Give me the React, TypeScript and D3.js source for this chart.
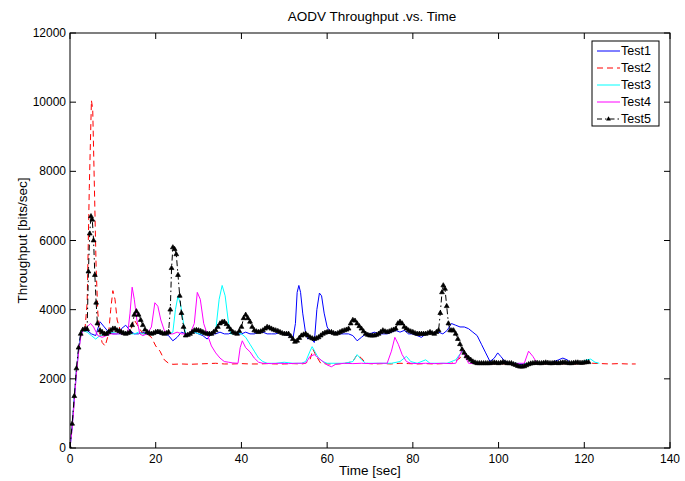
import React from "react";
import * as d3 from "d3";

const X_TICKS = [0, 20, 40, 60, 80, 100, 120, 140];
const Y_TICKS = [0, 2000, 4000, 6000, 8000, 10000, 12000];
const SERIES_NAMES = ["Test1", "Test2", "Test3", "Test4", "Test5"];

const test1: [number, number][] = [
  [0,0],[0.5,650],[1,1450],[1.5,2250],[2,2850],[2.5,3300],[3,3420],[4,3400],[5,3300],[6,3250],[7,3650],[8,3500],[9,3350],[10,3300],[11,3300],[12,3450],[13,3550],[14,3400],[15,3300],[16,3300],[17,3350],[18,3300],[19,3300],[20,3350],[21,3300],[22,3300],[23,3250],[24,3100],[25,3200],[26,3350],[27,3300],[28,3300],[29,3350],[30,3300],[31,3250],[32,3150],[33,3300],[34,3300],[35,3350],[36,3300],[37,3300],[38,3350],[39,3300],[40,3300],[41,3350],[42,3300],[43,3300],[44,3350],[45,3350],[46,3300],[47,3300],[48,3300],[49,3350],[50,3300],[51,3250],[52,3150],[52.6,3600],[53,4500],[53.4,4700],[53.8,4500],[54.3,3900],[55,3300],[55.5,3150],[56,3200],[57,3050],[57.6,4000],[58.2,4480],[58.7,4400],[59.3,3900],[60,3500],[61,3300],[62,3350],[63,3300],[64,3300],[65,3300],[66,3250],[67,3100],[68,3200],[69,3300],[70,3300],[71,3350],[72,3300],[73,3300],[74,3300],[75,3350],[76,3400],[77,3350],[78,3400],[79,3300],[80,3300],[81,3250],[82,3200],[83,3300],[84,3350],[85,3300],[86,3350],[87,3300],[88,3400],[89,3600],[90,3550],[91,3500],[92,3500],[93,3450],[94,3350],[95,3250],[96,3000],[97,2750],[98,2500],[99,2600],[99.8,2750],[100.5,2650],[101.5,2500],[103,2450],[105,2420],[106,2400],[108,2450],[110,2450],[112,2450],[114,2550],[115,2600],[116,2550],[117,2450],[119,2450],[121,2480]
];

const test2: [number, number][] = [
  [0,0],[0.5,600],[1,1400],[1.5,2200],[2,2800],[2.5,3250],[3,3400],[3.5,3450],[4,4200],[4.5,7500],[5,10050],[5.3,9800],[5.7,7500],[6.1,5200],[6.5,3900],[7,3300],[7.5,3050],[8.2,2950],[9,3300],[9.5,4000],[10,4550],[10.5,4300],[11,3700],[12,3300],[13,3300],[14,3350],[15,3700],[16,3500],[17,3300],[18,3300],[19,3200],[20,2950],[21,2800],[22,2550],[23,2450],[24,2420],[26,2430],[28,2420],[30,2430],[32,2440],[34,2450],[36,2430],[38,2430],[40,2440],[42,2430],[44,2430],[46,2440],[48,2430],[50,2430],[52,2440],[54,2430],[55,2450],[56,2550],[56.7,2850],[57.5,2650],[58.5,2450],[60,2430],[62,2430],[64,2440],[66,2500],[67,2700],[68,2600],[69,2450],[71,2430],[73,2440],[75,2430],[77,2450],[79,2440],[81,2430],[83,2440],[85,2430],[87,2440],[89,2450],[91,2600],[91.7,2850],[92.5,2700],[94,2450],[96,2440],[98,2430],[100,2440],[102,2430],[104,2440],[106,2430],[108,2440],[110,2430],[112,2440],[114,2430],[116,2440],[118,2430],[120,2440],[122,2450],[124,2440],[126,2430],[128,2440],[130,2430],[132,2430]
];

const test3: [number, number][] = [
  [0,0],[0.5,600],[1,1400],[1.5,2200],[2,2800],[2.5,3250],[3,3400],[4,3350],[5,3250],[6,3150],[7,3250],[8,3300],[9,3300],[10,3350],[11,3300],[12,3300],[13,3350],[14,3300],[15,3300],[16,3350],[17,3300],[18,3300],[19,3300],[20,3350],[21,3350],[22,3300],[23,3300],[24,3350],[24.6,4000],[25.2,4400],[25.8,4150],[26.5,3600],[27,3300],[28,3300],[29,3350],[30,3300],[31,3300],[32,3350],[33,3300],[34,3400],[34.8,4300],[35.5,4700],[36.2,4400],[37,3600],[37.5,3300],[38,3300],[39,3350],[40,3300],[41,3200],[42,3000],[43,2800],[44,2600],[45,2500],[46,2450],[48,2450],[50,2480],[52,2450],[54,2450],[55,2500],[56,2800],[56.5,2930],[57.3,2750],[58,2600],[59,2500],[60,2450],[62,2450],[64,2450],[66,2500],[67,2700],[68,2550],[69,2450],[72,2450],[75,2450],[77,2500],[78.5,2650],[79.5,2500],[81,2450],[83,2550],[84,2450],[86,2450],[88,2450],[90,2550],[91.5,2800],[92.5,2650],[94,2450],[96,2450],[98,2450],[100,2460],[102,2450],[104,2450],[106,2440],[108,2450],[110,2460],[112,2450],[114,2450],[116,2460],[118,2450],[119,2450],[120.5,2550],[121.5,2570],[122.5,2480],[123.5,2450]
];

const test4: [number, number][] = [
  [0,0],[0.5,550],[1,1350],[1.5,2150],[2,2750],[2.5,3200],[3,3400],[4,3500],[4.8,3600],[5.5,3500],[6.5,3250],[7.5,3200],[8.5,3250],[9.5,3300],[10.5,3300],[11.5,3300],[12.5,3300],[13.5,3350],[14,3900],[14.5,4650],[15,4300],[15.6,3700],[16.3,3300],[17,3250],[18,3300],[19,3500],[19.8,4200],[20.5,4100],[21.2,3700],[22,3400],[23,3300],[24,3300],[25,3350],[26,3300],[27,3300],[28,3300],[29,3600],[29.7,4500],[30.4,4300],[31.2,3600],[32,3300],[33,2950],[34,2750],[35,2600],[36,2500],[37,2480],[38,2460],[39.2,2450],[39.7,2900],[40.2,3100],[41,2900],[42,2780],[43,2600],[44,2480],[45,2450],[47,2440],[49,2450],[51,2440],[53,2450],[55,2450],[56,2650],[57,2700],[58,2600],[59,2500],[60,2400],[61,2350],[62,2420],[64,2450],[66,2440],[68,2450],[70,2440],[72,2450],[74,2450],[75,2800],[75.8,3200],[76.6,3000],[77.5,2700],[78.5,2500],[79.5,2450],[81,2440],[83,2450],[85,2440],[87,2450],[89,2440],[90,2450],[91,2700],[91.6,2850],[92.2,2650],[93,2450],[95,2440],[97,2450],[99,2440],[101,2450],[103,2440],[105,2450],[106,2450],[107,2800],[108,2650],[109,2450],[111,2440],[113,2450],[115,2440],[117,2450],[120,2450]
];

const test5: [number, number][] = [
  [0,0],[0.5,700],[1,1500],[1.5,2300],[2,2900],[2.5,3300],[3,3420],[3.5,3440],[4,3430],[4.3,5100],[4.6,6200],[4.9,6700],[5.2,6600],[5.5,6000],[5.8,5000],[6.1,4200],[6.4,3600],[7,3400],[7.5,3350],[8,3300],[8.5,3300],[9,3350],[9.5,3400],[10,3450],[10.5,3450],[11,3400],[11.5,3380],[12,3350],[12.5,3320],[13,3300],[13.5,3320],[14,3350],[14.5,3550],[15,3850],[15.5,3950],[16,3850],[16.5,3700],[17,3550],[17.5,3420],[18,3350],[18.5,3320],[19,3300],[19.5,3320],[20,3350],[20.5,3360],[21,3350],[21.5,3320],[22,3300],[22.5,3320],[23,3350],[23.4,4000],[23.7,5200],[24,5800],[24.4,5750],[24.8,5600],[25.2,5000],[25.6,4400],[26,3900],[26.5,3500],[27,3250],[27.5,3270],[28,3300],[28.5,3350],[29,3400],[29.5,3410],[30,3400],[30.5,3380],[31,3350],[31.5,3320],[32,3300],[32.5,3300],[33,3300],[33.5,3350],[34,3400],[34.5,3500],[35,3600],[35.5,3640],[36,3650],[36.5,3580],[37,3500],[37.5,3420],[38,3350],[38.5,3320],[39,3300],[39.5,3380],[40,3500],[40.5,3750],[41,3850],[41.5,3750],[42,3650],[42.5,3500],[43,3400],[43.5,3370],[44,3350],[44.5,3370],[45,3400],[45.5,3450],[46,3500],[46.5,3480],[47,3450],[47.5,3420],[48,3400],[48.5,3380],[49,3350],[49.5,3320],[50,3300],[50.5,3300],[51,3300],[51.5,3230],[52,3150],[52.5,3070],[53,3100],[53.5,3180],[54,3250],[54.5,3280],[55,3300],[55.5,3250],[56,3200],[56.5,3170],[57,3150],[57.5,3170],[58,3200],[58.5,3250],[59,3300],[59.5,3330],[60,3350],[60.5,3350],[61,3350],[61.5,3320],[62,3300],[62.5,3320],[63,3350],[63.5,3380],[64,3400],[64.5,3420],[65,3450],[65.5,3600],[66,3700],[66.5,3680],[67,3600],[67.5,3520],[68,3450],[68.5,3370],[69,3300],[69.5,3270],[70,3250],[70.5,3250],[71,3250],[71.5,3270],[72,3300],[72.5,3350],[73,3400],[73.5,3370],[74,3350],[74.5,3370],[75,3400],[75.5,3420],[76,3450],[76.5,3600],[77,3650],[77.5,3600],[78,3500],[78.5,3450],[79,3400],[79.5,3370],[80,3350],[80.5,3320],[81,3300],[81.5,3300],[82,3300],[82.5,3300],[83,3300],[83.5,3320],[84,3350],[84.5,3320],[85,3300],[85.5,3350],[86,3400],[86.4,3900],[86.8,4500],[87.1,4700],[87.5,4600],[87.9,4100],[88.3,3600],[88.7,3400],[89.1,3400],[89.5,3400],[90,3300],[90.5,3150],[91,3000],[91.5,2850],[92,2750],[92.5,2650],[93,2600],[93.5,2550],[94,2500],[94.5,2470],[95,2450],[95.5,2450],[96,2450],[96.5,2450],[97,2450],[97.5,2450],[98,2450],[98.5,2460],[99,2470],[99.5,2460],[100,2450],[100.5,2460],[101,2480],[101.5,2470],[102,2450],[102.5,2450],[103,2450],[103.5,2420],[104,2400],[104.5,2370],[105,2350],[105.5,2350],[106,2360],[106.5,2390],[107,2420],[107.5,2440],[108,2450],[108.5,2460],[109,2460],[109.5,2450],[110,2450],[110.5,2460],[111,2470],[111.5,2460],[112,2450],[112.5,2450],[113,2460],[113.5,2460],[114,2450],[114.5,2460],[115,2470],[115.5,2470],[116,2460],[116.5,2450],[117,2450],[117.5,2460],[118,2470],[118.5,2470],[119,2460],[119.5,2460],[120,2470],[120.5,2480],[121,2480]
];

const W = 685, H = 481;
const L = 70, R = 670, T = 33, B = 448;
const FONT = "'Liberation Sans', Arial, Helvetica, sans-serif";

export default function App() {
  const x = d3.scaleLinear().domain([0, 140]).range([L, R]);
  const y = d3.scaleLinear().domain([0, 12000]).range([B, T]);
  const line = d3.line<[number, number]>().x(d => x(d[0])).y(d => y(d[1]));
  const tri = d3.symbol(d3.symbolTriangle, 10)() as string;

  const styles = [
    { data: test1, color: "#0000ff", dash: undefined },
    { data: test2, color: "#ff0000", dash: "6,4" },
    { data: test3, color: "#00ffff", dash: undefined },
    { data: test4, color: "#ff00ff", dash: undefined },
    { data: test5, color: "#000000", dash: "6,3,1.5,3" },
  ];

  const legX = 592, legY = 41, legW = 67, legH = 85;

  return (
    <svg width={W} height={H} style={{ position: "absolute", left: 0, top: 0, background: "#fff" }} fontFamily={FONT}>
      <rect x={0} y={0} width={W} height={H} fill="#fff" />
      <defs>
        <clipPath id="plotclip">
          <rect x={L} y={T} width={R - L} height={B - T} />
        </clipPath>
      </defs>
      <g clipPath="url(#plotclip)">
        {styles.map((s, i) => (
          <path key={i} d={line(s.data) || ""} fill="none" stroke={s.color} strokeWidth={1}
            strokeDasharray={s.dash} />
        ))}
        {test5.map((d, i) => (
          <path key={"m" + i} d={tri} transform={`translate(${x(d[0])},${y(d[1])})`} fill="#000" stroke="#000" strokeWidth={0.7} />
        ))}
      </g>
      <rect x={L} y={T} width={R - L} height={B - T} fill="none" stroke="#000" strokeWidth={1} />
      {X_TICKS.map(t => (
        <g key={"x" + t}>
          <line x1={x(t)} x2={x(t)} y1={B} y2={B - 6} stroke="#000" />
          <line x1={x(t)} x2={x(t)} y1={T} y2={T + 6} stroke="#000" />
          <text x={x(t)} y={B + 15} fontSize={12} textAnchor="middle" fill="#000">{t}</text>
        </g>
      ))}
      {Y_TICKS.map(t => (
        <g key={"y" + t}>
          <line x1={L} x2={L + 6} y1={y(t)} y2={y(t)} stroke="#000" />
          <line x1={R} x2={R - 6} y1={y(t)} y2={y(t)} stroke="#000" />
          <text x={L - 4} y={y(t) + 4} fontSize={12} textAnchor="end" fill="#000">{t}</text>
        </g>
      ))}
      <text x={(L + R) / 2 + 2} y={21} fontSize={13.5} textAnchor="middle" fill="#000">AODV Throughput .vs. Time</text>
      <text x={(L + R) / 2} y={475} fontSize={13.5} textAnchor="middle" fill="#000">Time [sec]</text>
      <text transform={`translate(27,${(T + B) / 2}) rotate(-90)`} fontSize={13.5} textAnchor="middle" fill="#000">Throughput [bits/sec]</text>
      <rect x={legX} y={legY} width={legW} height={legH} fill="#fff" stroke="#000" strokeWidth={1} />
      {SERIES_NAMES.map((n, i) => {
        const ly = legY + 10 + i * 17;
        const s = styles[i];
        return (
          <g key={n}>
            <line x1={597} x2={620} y1={ly} y2={ly} stroke={s.color} strokeWidth={1}
              strokeDasharray={i === 1 ? "6,4" : i === 4 ? "5,3,1.5,3" : undefined} />
            {i === 4 && <path d={tri} transform={`translate(608.5,${ly})`} fill="#000" />}
            <text x={621} y={ly + 4} fontSize={12.5} fill="#000">{n}</text>
          </g>
        );
      })}
    </svg>
  );
}
